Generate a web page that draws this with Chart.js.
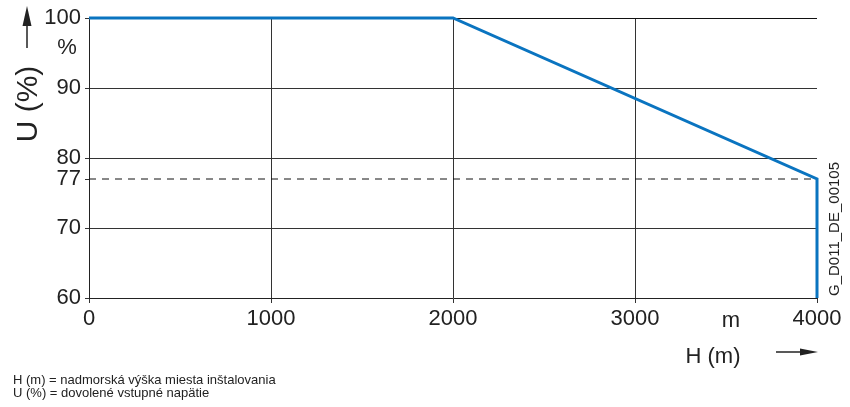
<!DOCTYPE html>
<html>
<head>
<meta charset="utf-8">
<script src="https://cdn.jsdelivr.net/npm/chart.js@4"></script>
<style>
  body { margin: 0; background: #fff; }
  #wrap { width: 850px; height: 407px; }
</style>
</head>
<body>
<div id="wrap"><canvas id="derating" width="850" height="407"></canvas></div>
<script>
// data
const altitude = [0, 2000, 4000, 4000];
const voltage = [100, 100, 77, 60];
const xTicks = [0, 1000, 2000, 3000, 4000];
const yTicks = [60, 70, 77, 80, 90, 100];
const limitLevel = 77;
const limitSpan = [0, 4000];

const FONT = '"Liberation Sans", Arial, sans-serif';
const INK = "#222";

function arrow(ctx, x1, y1, x2, y2, head, half) {
    const a = Math.atan2(y2 - y1, x2 - x1);
    const bx = x2 - head * Math.cos(a);
    const by = y2 - head * Math.sin(a);
    ctx.beginPath();
    ctx.moveTo(x1, y1);
    ctx.lineTo(bx, by);
    ctx.stroke();
    ctx.beginPath();
    ctx.moveTo(x2, y2);
    ctx.lineTo(bx + half * Math.sin(a), by - half * Math.cos(a));
    ctx.lineTo(bx - half * Math.sin(a), by + half * Math.cos(a));
    ctx.closePath();
    ctx.fill();
}

const annotations = {
    id: "annotations",
    afterDraw(chart) {
        const ctx = chart.ctx;
        ctx.save();
        ctx.fillStyle = INK;
        ctx.strokeStyle = INK;
        ctx.lineWidth = 1.5;

        // y axis arrow and titles
        arrow(ctx, 27, 48, 27, 6, 20, 4.5);
        ctx.textAlign = "center";
        ctx.textBaseline = "middle";
        ctx.font = "22px " + FONT;
        ctx.fillText("%", 67, 48);

        ctx.save();
        ctx.translate(29, 104);
        ctx.rotate(-Math.PI / 2);
        ctx.font = "30px " + FONT;
        ctx.fillText("U (%)", 0, 0);
        ctx.restore();

        // x axis unit, title and arrow
        ctx.font = "22px " + FONT;
        ctx.fillText("m", 731, 321);
        ctx.fillText("H (m)", 713, 357);
        arrow(ctx, 776, 352, 818, 352, 18, 3.5);

        // drawing id
        ctx.save();
        ctx.translate(835, 229);
        ctx.rotate(-Math.PI / 2);
        ctx.font = "15px " + FONT;
        ctx.fillText("G_D011_DE_00105", 0, 0);
        ctx.restore();

        // legend notes
        ctx.textAlign = "left";
        ctx.font = "13px " + FONT;
        ctx.fillText("H (m) = nadmorská výška miesta inštalovania", 13, 380);
        ctx.fillText("U (%) = dovolené vstupné napätie", 13, 393);
        ctx.restore();
    }
};

new Chart(document.getElementById("derating"), {
    type: "line",
    data: {
        datasets: [
        {
            label: "limit",
            data: limitSpan.map(x => ({ x: x, y: limitLevel })),
            borderColor: "#111",
            borderWidth: 1,
            borderDash: [7, 6],
            pointRadius: 0,
            fill: false
        },
        {
            label: "U",
            data: altitude.map((x, i) => ({ x: x, y: voltage[i] })),
            borderColor: "#0a74c0",
            borderWidth: 3,
            pointRadius: 0,
            fill: false,
            tension: 0,
            clip: 4,
            borderJoinStyle: "miter"
        }
        ]
    },
    options: {
        responsive: false,
        animation: false,
        layout: {
            padding: { left: 0, top: 18, right: 33, bottom: 0 }
        },
        plugins: {
            legend: { display: false },
            tooltip: { enabled: false }
        },
        scales: {
            x: {
                type: "linear",
                min: 0,
                max: 4000,
                afterBuildTicks(scale) {
                    scale.ticks = xTicks.map(v => ({ value: v }));
                },
                afterFit(scale) {
                    scale.height = 109;
                },
                grid: {
                    color(c) {
                        const v = c.tick ? c.tick.value : 0;
                        return (v === 0 || v === 4000) ? "rgba(0,0,0,0)" : "#333";
                    },
                    lineWidth: 1,
                    tickLength: 5,
                    tickColor: "#333"
                },
                border: { color: "#222", width: 1 },
                ticks: {
                    color: INK,
                    padding: 3,
                    maxRotation: 0,
                    callback: v => String(v),
                    font: { family: FONT, size: 22 }
                }
            },
            y: {
                type: "linear",
                min: 60,
                max: 100,
                afterBuildTicks(scale) {
                    scale.ticks = yTicks.map(v => ({ value: v }));
                },
                afterFit(scale) {
                    scale.width = 89;
                },
                grid: {
                    color(c) {
                        const v = c.tick ? c.tick.value : 0;
                        if (v === 60 || v === limitLevel) return "rgba(0,0,0,0)";
                        return v === 100 ? "#111" : "#333";
                    },
                    lineWidth: 1,
                    tickLength: 4,
                    tickColor: "#333"
                },
                border: { color: "#222", width: 1 },
                ticks: {
                    color: INK,
                    padding: 4,
                    callback: v => String(v),
                    font: { family: FONT, size: 22 }
                }
            }
        }
    },
    plugins: [annotations]
});
</script>
</body>
</html>
